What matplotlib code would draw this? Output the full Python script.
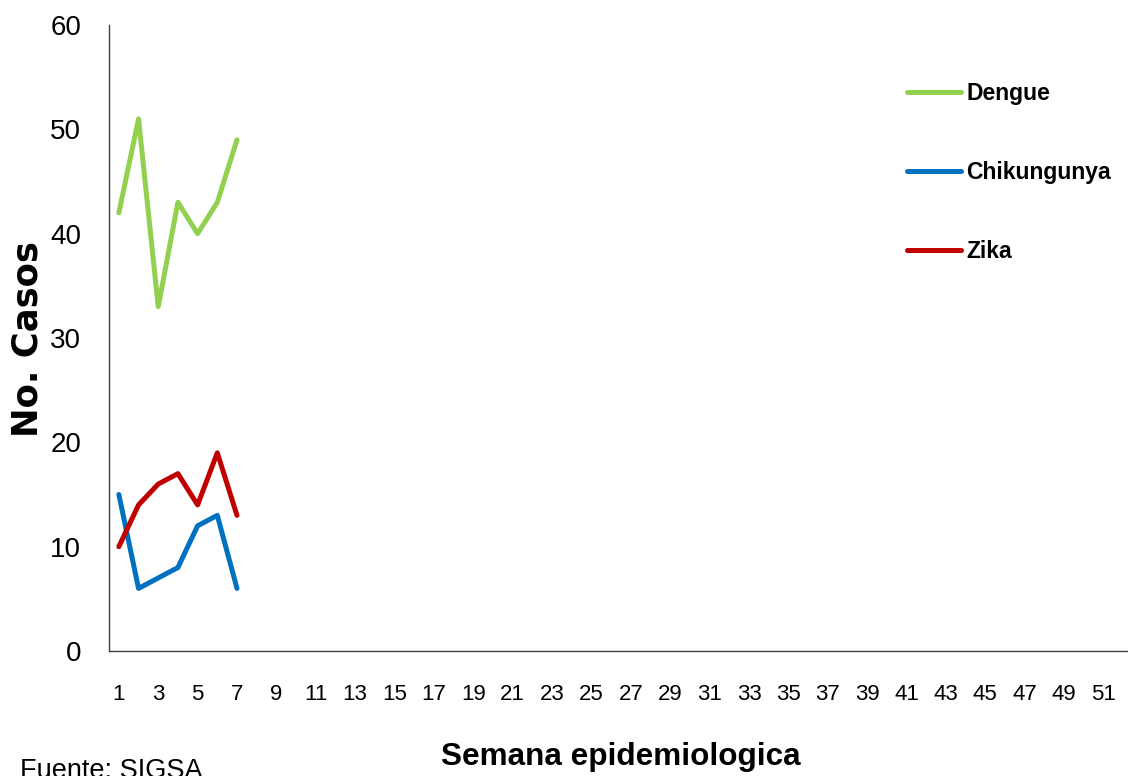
import matplotlib
matplotlib.use("Agg")
import matplotlib.pyplot as plt

# weekly case counts, epi weeks 1-7
weeks = [1, 2, 3, 4, 5, 6, 7]
dengue = [42, 51, 33, 43, 40, 43, 49]
chikungunya = [15, 6, 7, 8, 12, 13, 6]
zika = [10, 14, 16, 17, 14, 19, 13]
series_names = ["Dengue", "Chikungunya", "Zika"]
colors = ["#92D050", "#0070C0", "#C00000"]
week_ticks = list(range(1, 53, 2))

FONT = "Liberation Sans"
W, H = 1128, 776

fig = plt.figure(figsize=(W / 100, H / 100), dpi=100)
ax = fig.add_axes([109 / W, 1 - 651 / H, (1133 - 109) / W, (651 - 25) / H])

for name, vals, c in zip(series_names, [dengue, chikungunya, zika], colors):
    ax.plot(weeks, vals, color=c, linewidth=3.6, label=name, solid_capstyle="round")

ax.set_xlim(0.5, 52.5)
ax.set_ylim(0, 60)
ax.set_yticks(range(0, 61, 10))
ax.set_xticks(week_ticks)
ax.tick_params(axis="both", length=0)
ax.tick_params(axis="x", pad=24)
ax.tick_params(axis="y", pad=20)
for lab in ax.get_xticklabels():
    lab.set_fontfamily(FONT)
    lab.set_fontsize(16)
for lab in ax.get_yticklabels():
    lab.set_fontfamily(FONT)
    lab.set_fontsize(20)

for s in ["top", "right"]:
    ax.spines[s].set_visible(False)
for s in ["left", "bottom"]:
    ax.spines[s].set_color("#404040")
    ax.spines[s].set_linewidth(1.0)

fig.text(28 / W, 1 - 339 / H, "No. Casos", rotation=90, fontsize=25.5,
         fontweight="bold", family="DejaVu Sans", ha="center", va="center")
fig.text(621 / W, 1 - 765 / H, "Semana epidemiologica", fontsize=22.7,
         fontweight="bold", family=FONT, ha="center", va="baseline")
fig.text(20 / W, 1 - 758 / H, "Fuente: SIGSA", fontsize=19.5,
         family=FONT, ha="left", va="top")

ax.legend(loc="upper left", bbox_to_anchor=(907 / W, 1 - 82 / H),
          bbox_transform=fig.transFigure, frameon=False,
          prop={"family": FONT, "weight": "bold", "size": 16.5},
          handlelength=2.36, handletextpad=0.22, labelspacing=2.45, borderpad=0,
          borderaxespad=0)

fig.savefig("out.png", dpi=100)
